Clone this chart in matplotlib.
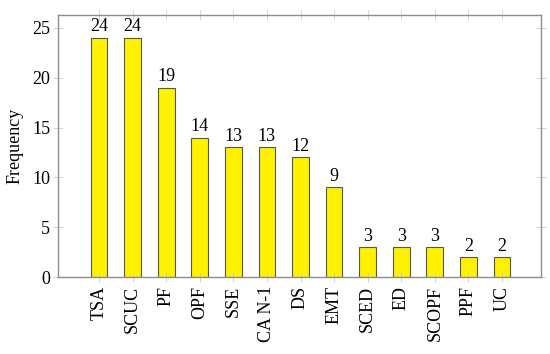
import matplotlib
matplotlib.use("Agg")
import matplotlib.pyplot as plt

categories = ["TSA", "SCUC", "PF", "OPF", "SSE", "CA N-1", "DS", "EMT",
              "SCED", "ED", "SCOPF", "PPF", "UC"]
frequency = [24, 24, 19, 14, 13, 13, 12, 9, 3, 3, 3, 2, 2]
y_ticks = [0, 5, 10, 15, 20, 25]

plt.rcParams['font.family'] = 'serif'
plt.rcParams['font.serif'] = ['Liberation Serif', 'DejaVu Serif']
plt.rcParams['font.size'] = 13

fig = plt.figure(figsize=(5.5, 3.54), dpi=100)
ax = fig.add_axes([58 / 550, 1 - 277 / 354, (541 - 58) / 550, (277 - 15) / 354])

x = list(range(len(categories)))
ax.bar(x, frequency, width=0.5, color="#FFF200", edgecolor="#555555", linewidth=0.8)
for xi, v in zip(x, frequency):
    ax.text(xi, v + 0.25, str(v), ha="center", va="bottom")

ax.set_xlim(-1.22, 13.16)
ax.set_ylim(0, 26.3)
ax.set_xticks(x)
ax.set_xticklabels(categories, rotation=90)
ax.set_yticks(y_ticks)
ax.set_ylabel("Frequency", labelpad=6)

for s in ax.spines.values():
    s.set_color("#8c8c8c")
    s.set_linewidth(1.0)
ax.tick_params(direction="inout", length=7, width=0.6, color="#cccccc",
               top=True, right=True, pad=3)
ax.tick_params(axis="y", pad=2)

fig.savefig("out.png", dpi=100)
